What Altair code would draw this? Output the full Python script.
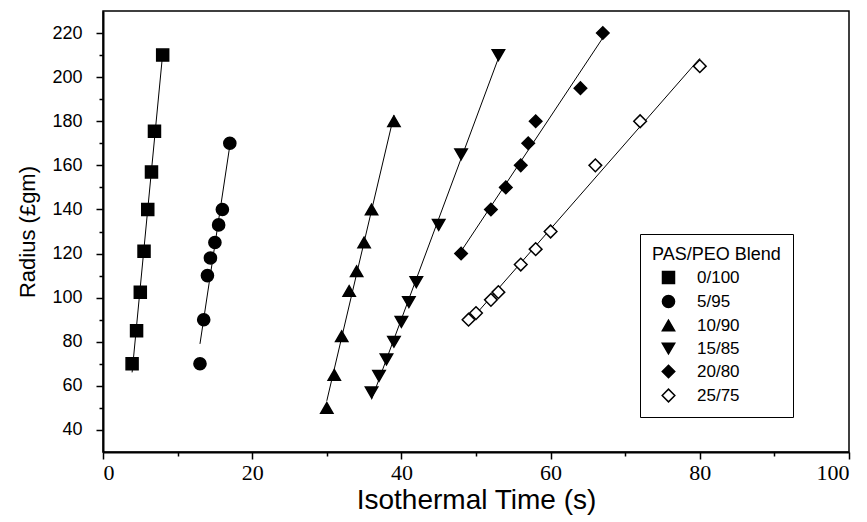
import altair as alt
import pandas as pd

series_names = ["0/100", "5/95", "10/90", "15/85", "20/80", "25/75"]

x_0_100 = [3.9, 4.5, 5.0, 5.5, 6.0, 6.5, 6.9, 8.0]
y_0_100 = [70, 85, 102.5, 121, 140, 157, 175.5, 210]

x_5_95 = [13.0, 13.5, 14.0, 14.4, 15.0, 15.5, 16.0, 17.0]
y_5_95 = [70, 90, 110, 118, 125, 133, 140, 170]

x_10_90 = [30, 31, 32, 33, 34, 35, 36, 39]
y_10_90 = [50, 65, 82.5, 103, 112, 125, 140, 180]

x_15_85 = [36, 37, 38, 39, 40, 41, 42, 45, 48, 53]
y_15_85 = [57, 64.5, 72, 80, 89, 98, 107, 133, 165, 210]

x_20_80 = [48, 52, 54, 56, 57, 58, 64, 67]
y_20_80 = [120, 140, 150, 160, 170, 180, 195, 220]

x_25_75 = [49, 50, 52, 53, 56, 58, 60, 66, 72, 80]
y_25_75 = [90, 93, 99, 102.5, 115, 122, 130, 160, 180, 205]

x_major_ticks = [0, 20, 40, 60, 80, 100]
x_minor_ticks = [10, 30, 50, 70, 90]
y_major_ticks = [40, 60, 80, 100, 120, 140, 160, 180, 200, 220]
y_minor_ticks = [50, 70, 90, 110, 130, 150, 170, 190, 210]

series_x = [x_0_100, x_5_95, x_10_90, x_15_85, x_20_80, x_25_75]
series_y = [y_0_100, y_5_95, y_10_90, y_15_85, y_20_80, y_25_75]

rows = []
for name, xs, ys in zip(series_names, series_x, series_y):
    for xv, yv in zip(xs, ys):
        rows.append({"series": name, "time": xv, "radius": yv})
df = pd.DataFrame(rows)

shapes = ["square", "circle", "triangle-up", "triangle-down", "diamond", "diamond"]
fills = ["black", "black", "black", "black", "black", "white"]
sizes = [144, 160, 196, 196, 169, 169]

x_scale = alt.Scale(domain=[0, 100], nice=False, zero=False)
y_scale = alt.Scale(domain=[30, 230], nice=False, zero=False)

x_axis = alt.Axis(
    title="Isothermal Time (s)",
    orient="bottom",
    values=x_major_ticks,
    tickSize=7,
    labelFont="Liberation Sans Narrow",
    labelFontSize=22,
    labelPadding=3,
    titleFont="Liberation Sans",
    titleFontSize=28,
    titleFontWeight="normal",
    titlePadding=3,
    grid=False,
)
y_axis = alt.Axis(
    title="Radius (£gm)",
    orient="left",
    values=y_major_ticks,
    tickSize=7,
    labelFont="Liberation Sans",
    labelFontSize=18,
    labelPadding=14,
    titleFont="Liberation Sans",
    titleFontSize=22,
    titleFontWeight="normal",
    titlePadding=12,
    grid=False,
)
x_axis_minor = alt.Axis(
    title=None, orient="bottom", values=x_minor_ticks, tickSize=4,
    labels=False, domain=False, grid=False,
)
y_axis_minor = alt.Axis(
    title=None, orient="left", values=y_minor_ticks, tickSize=4,
    labels=False, domain=False, grid=False,
)

legend = alt.Legend(
    title="PAS/PEO Blend",
    orient="none",
    legendX=537,
    legendY=223,
    strokeColor="black",
    fillColor="white",
    padding=12,
    titleFont="Liberation Sans",
    titleFontSize=18,
    titleFontWeight="normal",
    titlePadding=5,
    labelFont="Liberation Sans",
    labelFontSize=17,
    labelOffset=20,
    symbolOffset=8,
    symbolStrokeWidth=1.5,
    rowPadding=5,
)

base = alt.Chart(df)

lines = base.transform_regression(
    "time", "radius", groupby=["series"], method="linear"
).mark_line(color="black", strokeWidth=1).encode(
    x=alt.X("time:Q", scale=x_scale, axis=x_axis),
    y=alt.Y("radius:Q", scale=y_scale, axis=y_axis),
    detail="series:N",
)

points = base.mark_point(filled=False, stroke="black", strokeWidth=1.5, opacity=1).encode(
    x=alt.X("time:Q", scale=x_scale, axis=x_axis_minor),
    y=alt.Y("radius:Q", scale=y_scale, axis=y_axis_minor),
    shape=alt.Shape("series:N", scale=alt.Scale(domain=series_names, range=shapes), legend=legend),
    fill=alt.Fill("series:N", scale=alt.Scale(domain=series_names, range=fills), legend=legend),
    size=alt.Size("series:N", scale=alt.Scale(domain=series_names, range=sizes), legend=legend),
)

chart = alt.layer(lines, points).resolve_axis(
    x="independent", y="independent"
).properties(
    width=746,
    height=441,
    padding={"left": 103, "top": 11, "right": 18, "bottom": 70},
    autosize=alt.AutoSizeParams(type="none"),
    background="white",
).configure_view(
    stroke="black", strokeWidth=1.5
).configure_axis(
    domainColor="black", domainWidth=2, tickColor="black", tickWidth=1.5,
    labelColor="black", titleColor="black",
)

chart.save("out.html", embed_options={"renderer": "svg", "actions": False})
